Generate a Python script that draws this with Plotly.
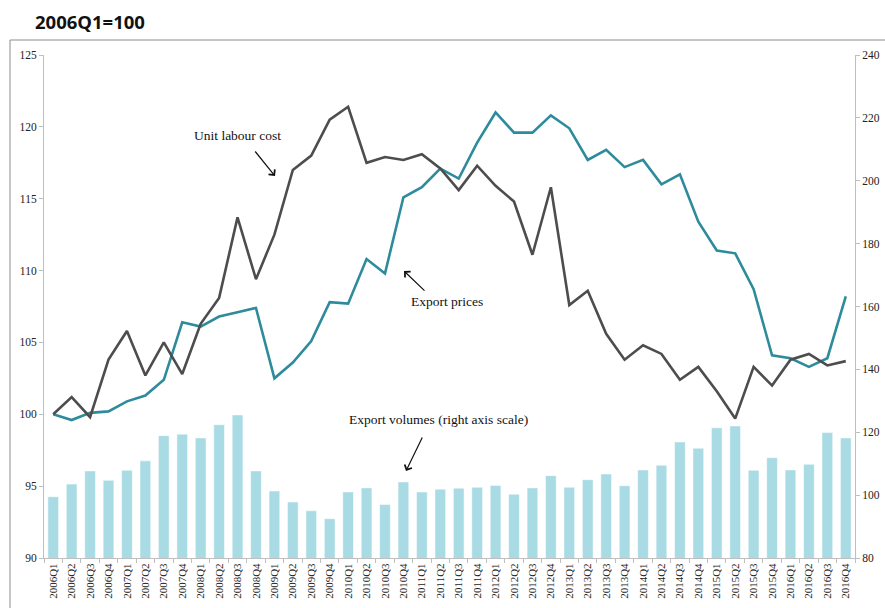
import plotly.graph_objects as go

quarters = [
    "2006Q1", "2006Q2", "2006Q3", "2006Q4", "2007Q1", "2007Q2", "2007Q3", "2007Q4",
    "2008Q1", "2008Q2", "2008Q3", "2008Q4", "2009Q1", "2009Q2", "2009Q3", "2009Q4",
    "2010Q1", "2010Q2", "2010Q3", "2010Q4", "2011Q1", "2011Q2", "2011Q3", "2011Q4",
    "2012Q1", "2012Q2", "2012Q3", "2012Q4", "2013Q1", "2013Q2", "2013Q3", "2013Q4",
    "2014Q1", "2014Q2", "2014Q3", "2014Q4", "2015Q1", "2015Q2", "2015Q3", "2015Q4",
    "2016Q1", "2016Q2", "2016Q3", "2016Q4",
]

unit_labour_cost = [
    100.0, 101.2, 99.8, 103.8, 105.8, 102.7, 105.0, 102.8,
    106.3, 108.1, 113.7, 109.4, 112.5, 117.0, 118.0, 120.5,
    121.4, 117.5, 117.9, 117.7, 118.1, 117.1, 115.6, 117.3,
    115.9, 114.8, 111.1, 115.8, 107.6, 108.6, 105.6, 103.8,
    104.8, 104.2, 102.4, 103.3, 101.6, 99.7, 103.3, 102.0,
    103.8, 104.2, 103.4, 103.7,
]

export_prices = [
    100.0, 99.6, 100.1, 100.2, 100.9, 101.3, 102.4, 106.4,
    106.1, 106.8, 107.1, 107.4, 102.5, 103.6, 105.1, 107.8,
    107.7, 110.8, 109.8, 115.1, 115.8, 117.1, 116.4, 118.9,
    121.0, 119.6, 119.6, 120.8, 119.9, 117.7, 118.4, 117.2,
    117.7, 116.0, 116.7, 113.4, 111.4, 111.2, 108.7, 104.1,
    103.9, 103.3, 103.9, 108.2,
]

export_volumes = [
    99.5, 103.5, 107.7, 104.7, 107.9, 110.9, 118.9, 119.4,
    118.2, 122.4, 125.5, 107.7, 101.3, 97.8, 95.0, 92.5,
    101.0, 102.3, 97.0, 104.2, 101.0, 101.9, 102.2, 102.5,
    103.1, 100.3, 102.3, 106.2, 102.5, 104.9, 106.7, 103.0,
    108.0, 109.5, 116.9, 114.9, 121.4, 122.0, 107.9, 111.9,
    108.0, 109.8, 119.9, 118.2,
]

left_ticks = [90, 95, 100, 105, 110, 115, 120, 125]
right_ticks = [80, 100, 120, 140, 160, 180, 200, 220, 240]

title_text = "2006Q1=100"
label_ulc = "Unit labour cost"
label_prices = "Export prices"
label_volumes = "Export volumes (right axis scale)"

SERIF = "Liberation Serif"
AXIS_GREY = "#bfbfbf"
TEXT_COL = "#222222"

fig = go.Figure()

fig.add_trace(go.Bar(
    x=quarters, y=export_volumes, yaxis="y",
    marker=dict(color="#a9dbe4", line=dict(color="white", width=0.5)),
    name=label_volumes,
))
fig.add_trace(go.Scatter(
    x=quarters, y=export_prices, yaxis="y2", mode="lines",
    line=dict(color="#2e8b9b", width=2.6), name=label_prices,
))
fig.add_trace(go.Scatter(
    x=quarters, y=unit_labour_cost, yaxis="y2", mode="lines",
    line=dict(color="#4d4d4d", width=2.6), name=label_ulc,
))

L, R, T, B = 44, 30, 55, 50
W, H = 885, 608
pw, ph = W - L - R, H - T - B


def px(xp):
    return (xp - L) / pw


def py(yp):
    return (H - B - yp) / ph


fig.update_layout(
    width=W, height=H,
    margin=dict(l=L, r=R, t=T, b=B, autoexpand=False),
    paper_bgcolor="white", plot_bgcolor="white",
    showlegend=False,
    bargap=0.42,
    xaxis=dict(
        type="category", tickangle=-90, tickson="boundaries",
        ticks="outside", ticklen=4, tickcolor=AXIS_GREY,
        showline=True, linecolor=AXIS_GREY, linewidth=1,
        showgrid=False, zeroline=False, automargin=False,
        tickfont=dict(family=SERIF, size=11, color=TEXT_COL),
    ),
    yaxis=dict(
        side="right", range=[80, 240], tickvals=right_ticks,
        ticks="outside", ticklen=4, tickcolor=AXIS_GREY,
        showline=True, linecolor=AXIS_GREY, linewidth=1,
        showgrid=False, zeroline=False, automargin=False,
        tickfont=dict(family=SERIF, size=11.5, color=TEXT_COL),
    ),
    yaxis2=dict(
        side="left", overlaying="y", range=[90, 125], tickvals=left_ticks,
        ticks="outside", ticklen=4, tickcolor=AXIS_GREY,
        showline=True, linecolor=AXIS_GREY, linewidth=1,
        showgrid=False, zeroline=False, automargin=False,
        tickfont=dict(family=SERIF, size=11.5, color=TEXT_COL),
    ),
)

# outer frame
fig.add_shape(type="rect", xref="paper", yref="paper",
              x0=px(10), x1=px(900), y0=py(620), y1=py(40),
              line=dict(color="#8c8c8c", width=1), layer="below")

# title
fig.add_annotation(text="<b>" + title_text + "</b>", xref="paper", yref="paper",
                   x=px(33), y=py(22), xanchor="left", yanchor="middle",
                   showarrow=False,
                   font=dict(family="Open Sans", size=18.5, color="#111111"))

ann_font = dict(family=SERIF, size=13.5, color="#111111")
for txt, cx, cy in [(label_ulc, 237, 136), (label_prices, 447, 301),
                    (label_volumes, 438, 419)]:
    fig.add_annotation(text=txt, xref="paper", yref="paper",
                       x=px(cx), y=py(cy), xanchor="center", yanchor="middle",
                       showarrow=False, font=ann_font)

arrow_style = dict(showarrow=True, arrowhead=4, arrowsize=1.3, arrowwidth=1.2,
                   arrowcolor="#111111", text="", xref="paper", yref="paper")
fig.add_annotation(x=px(275), y=py(176), ax=-21, ay=-26, **arrow_style)
fig.add_annotation(x=px(404), y=py(271), ax=22, ay=21, **arrow_style)
fig.add_annotation(x=px(406), y=py(471), ax=17, ay=-35, **arrow_style)

fig.write_html(
    "out.html",
    config={"displayModeBar": False},
    post_script="document.body.style.margin='0';document.body.style.overflow='hidden';",
)
